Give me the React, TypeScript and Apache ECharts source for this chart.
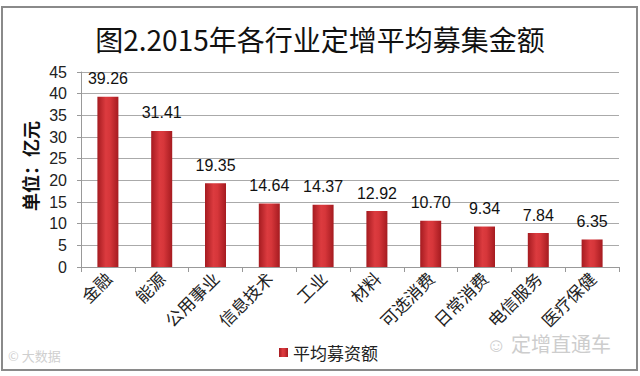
import React, { useEffect, useRef } from "react";
import * as echarts from "echarts";

const categories = ["金融", "能源", "公用事业", "信息技术", "工业", "材料", "可选消费", "日常消费", "电信服务", "医疗保健"];
const values = [39.26, 31.41, 19.35, 14.64, 14.37, 12.92, 10.7, 9.34, 7.84, 6.35];
const seriesName = "平均募资额";
const titleText = "图2.2015年各行业定增平均募集金额";
const yAxisName = "单位：亿元";

export default function App() {
  const ref = useRef<HTMLDivElement>(null);
  useEffect(() => {
    document.body.style.margin = "0";
    const chart = echarts.init(ref.current!, null, { renderer: "svg" });
    const barColor = new echarts.graphic.LinearGradient(0, 0, 1, 0, [
      { offset: 0, color: "#a51b20" },
      { offset: 0.4, color: "#dc3b3f" },
      { offset: 0.6, color: "#d6363a" },
      { offset: 1, color: "#a51b20" },
    ]);
    chart.setOption({
      animation: false,
      backgroundColor: "#ffffff",
      grid: { left: 81, right: 21, top: 72, bottom: 109, containLabel: false },
      title: {
        text: titleText,
        left: "center",
        top: 20,
        textStyle: { fontFamily: "Noto Sans CJK SC", fontSize: 28, fontWeight: "normal", color: "#111" },
      },
      legend: {
        data: [seriesName],
        left: 274,
        top: 339,
        itemWidth: 9,
        itemHeight: 9,
        itemGap: 4,
        icon: "rect",
        textStyle: { fontFamily: "Noto Sans CJK SC", fontSize: 17, color: "#222" },
      },
      xAxis: {
        type: "category",
        data: categories,
        axisLine: { show: true, lineStyle: { color: "#999", width: 1 } },
        axisTick: { show: true, length: 5, lineStyle: { color: "#999" } },
        axisLabel: {
          rotate: 45,
          margin: 8,
          fontFamily: "Noto Sans CJK SC",
          fontSize: 17,
          color: "#222",
        },
      },
      yAxis: {
        type: "value",
        min: 0,
        max: 45,
        interval: 5,
        axisLine: { show: true, lineStyle: { color: "#999", width: 1 } },
        axisTick: { show: true, length: 4, lineStyle: { color: "#999" } },
        axisLabel: { margin: 14, fontFamily: "Liberation Sans", fontSize: 16, color: "#222" },
        splitLine: { show: true, lineStyle: { color: "#aaa", width: 1 } },
      },
      series: [
        {
          name: seriesName,
          type: "bar",
          data: values,
          barWidth: 21,
          itemStyle: { color: barColor },
          label: {
            show: true,
            position: "top",
            distance: 10,
            formatter: (p: any) => p.value.toFixed(2),
            fontFamily: "Liberation Sans",
            fontSize: 16,
            color: "#111",
          },
        },
      ],
      graphic: [
        {
          type: "rect",
          shape: { x: 2, y: 7, width: 635, height: 363 },
          style: { fill: "none", stroke: "#8a8a8a", lineWidth: 2 },
          silent: true,
          z: -1,
        },
        {
          type: "text",
          x: 30,
          y: 166,
          rotation: Math.PI / 2,
          style: {
            text: yAxisName,
            fontFamily: "Noto Sans CJK SC",
            fontWeight: "bold",
            fontSize: 18,
            fill: "#111",
            align: "center",
            verticalAlign: "middle",
          },
        },
        {
          type: "text",
          x: 8,
          y: 349,
          style: {
            text: "© 大数据",
            fontFamily: "Noto Sans CJK SC",
            fontSize: 13,
            fill: "#cfcfcf",
          },
        },
        {
          type: "text",
          x: 486,
          y: 333,
          style: {
            text: "☺ 定增直通车",
            fontFamily: "Noto Sans CJK SC",
            fontSize: 20,
            fill: "#cdcdcd",
          },
        },
      ],
    });
    return () => chart.dispose();
  }, []);
  return <div ref={ref} style={{ width: 640, height: 376 }} />;
}
